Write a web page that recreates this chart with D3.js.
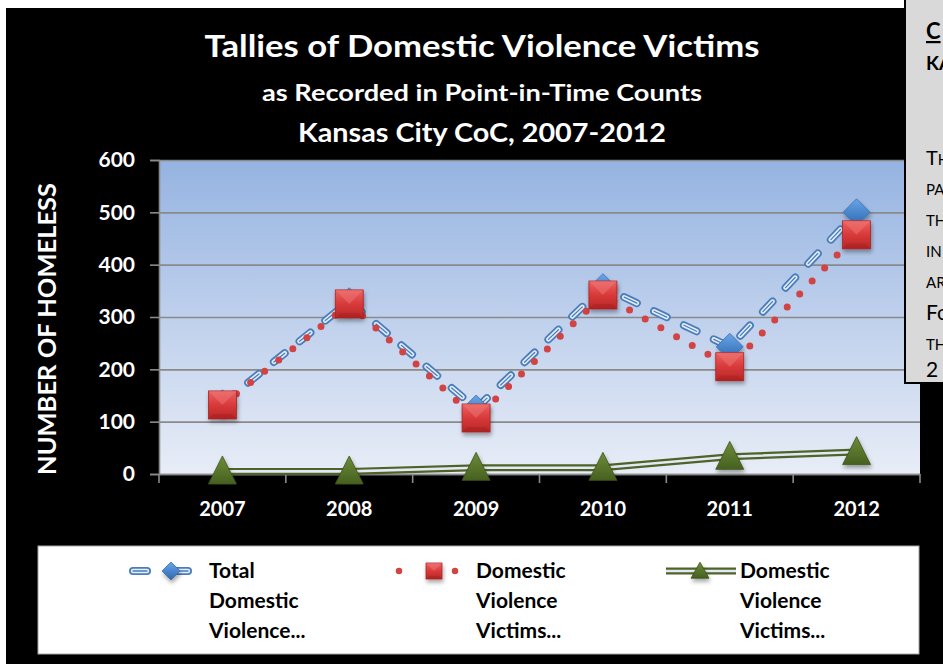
<!DOCTYPE html>
<html>
<head>
<meta charset="utf-8">
<script src="https://cdn.jsdelivr.net/npm/d3@7"></script>
<style>
  html, body { margin: 0; padding: 0; background: #ffffff; }
  svg { display: block; }
</style>
</head>
<body>
<script>
// ---------------- data ----------------
const years = ["2007", "2008", "2009", "2010", "2011", "2012"];
const totalDV = [135, 330, 125, 357, 243, 500];          // Total Domestic Violence...
const dvVictimsA = [132, 325, 107, 342, 205, 457];       // Domestic Violence Victims... (2nd)
const dvVictimsB = [5, 5, 12, 12, 33, 42];               // Domestic Violence Victims... (3rd)
const yTicks = [0, 100, 200, 300, 400, 500, 600];
const seriesNames = [
  ["Total", "Domestic", "Violence..."],
  ["Domestic", "Violence", "Victims..."],
  ["Domestic", "Violence", "Victims..."]
];
const titleLines = [
  "Tallies of Domestic Violence Victims",
  "as Recorded in Point-in-Time Counts",
  "Kansas City CoC, 2007-2012"
];
const yAxisTitle = "NUMBER OF HOMELESS";

// ---------------- setup ----------------
const W = 943, H = 664;
const FONT = "Lato, 'Open Sans', 'DejaVu Sans', sans-serif";
const svg = d3.select("body").append("svg").attr("width", W).attr("height", H);
const defs = svg.append("defs");

const plot = { left: 159, top: 160, right: 920, bottom: 474 };

const x = d3.scaleBand().domain(years).range([plot.left, plot.right]).padding(0);
const y = d3.scaleLinear().domain([0, 600]).range([plot.bottom, plot.top]);
const cx = d => x(d) + x.bandwidth() / 2;

// gradients
function vGrad(id, stops) {
  const g = defs.append("linearGradient").attr("id", id)
    .attr("x1", 0).attr("y1", 0).attr("x2", 0).attr("y2", 1);
  stops.forEach(([o, c]) => g.append("stop").attr("offset", o).attr("stop-color", c));
}
vGrad("plotBg", [[0, "#95b3e1"], [1, "#e8edf7"]]);
vGrad("diaG", [[0, "#6aa6e8"], [0.5, "#4a86cc"], [1, "#2f68ad"]]);
vGrad("sqG", [[0, "#ec6262"], [0.5, "#d83a3a"], [1, "#b82626"]]);
vGrad("triG", [[0, "#6d8c3a"], [1, "#46601f"]]);

const shadow = defs.append("filter").attr("id", "sh")
  .attr("x", "-50%").attr("y", "-50%").attr("width", "200%").attr("height", "200%");
shadow.append("feDropShadow").attr("dx", 1).attr("dy", 3).attr("stdDeviation", 2)
  .attr("flood-color", "#000").attr("flood-opacity", 0.35);

// ---------------- chart frame ----------------
svg.append("rect").attr("x", 6).attr("y", 8).attr("width", W - 6).attr("height", H - 8).attr("fill", "#000");

// title
const titleSizes = [31, 23, 27];
const titleY = [46, 93, 133];
const titleLen = [555, 440, 368];
titleLines.forEach((t, i) => {
  svg.append("text").attr("x", 482).attr("y", titleY[i]).attr("dy", "0.35em")
    .attr("text-anchor", "middle").attr("fill", "#fff")
    .attr("font-family", FONT).attr("font-weight", 700).attr("font-size", titleSizes[i])
    .attr("textLength", titleLen[i]).attr("lengthAdjust", "spacingAndGlyphs")
    .text(t);
});

// plot area
svg.append("rect").attr("x", plot.left).attr("y", plot.top)
  .attr("width", plot.right - plot.left).attr("height", plot.bottom - plot.top)
  .attr("fill", "url(#plotBg)");

// gridlines
const grid = svg.append("g").attr("transform", `translate(${plot.left},0)`)
  .call(d3.axisLeft(y).tickValues(yTicks).tickSize(-(plot.right - plot.left)).tickFormat(""));
grid.select(".domain").remove();
grid.selectAll("line").attr("stroke", "#8a8a8a").attr("stroke-width", 1.6);

// y axis
const yAx = svg.append("g").attr("transform", `translate(${plot.left},0)`)
  .call(d3.axisLeft(y).tickValues(yTicks).tickSize(9).tickPadding(15));
yAx.select(".domain").attr("stroke", "#8a8a8a").attr("stroke-width", 1.6);
yAx.selectAll("line").attr("stroke", "#8a8a8a").attr("stroke-width", 1.6);
yAx.selectAll("text").attr("fill", "#fff").attr("font-family", FONT)
  .attr("font-weight", 700).attr("font-size", 21);

// x axis
const xAx = svg.append("g").attr("transform", `translate(0,${plot.bottom})`)
  .call(d3.axisBottom(x).tickSize(0).tickPadding(35));
xAx.select(".domain").attr("stroke", "#8a8a8a").attr("stroke-width", 1.6);
xAx.selectAll("text").attr("fill", "#fff").attr("font-family", FONT)
  .attr("font-weight", 700).attr("font-size", 20).attr("dy", "0.35em");
// category boundary ticks
const bounds = years.map(d => x(d)).concat([x.range()[1]]);
svg.append("g").selectAll("line").data(bounds).join("line")
  .attr("x1", d => d).attr("x2", d => d).attr("y1", plot.bottom).attr("y2", plot.bottom + 9)
  .attr("stroke", "#8a8a8a").attr("stroke-width", 1.6);

// y axis title
svg.append("text").attr("transform", `translate(48,${(183 + 475) / 2}) rotate(-90)`)
  .attr("text-anchor", "middle").attr("dy", "0.35em").attr("fill", "#fff")
  .attr("font-family", FONT).attr("font-weight", 700).attr("font-size", 24)
  .attr("textLength", 292).attr("lengthAdjust", "spacingAndGlyphs")
  .text(yAxisTitle);

// ---------------- series ----------------
const line = d3.line().x((d, i) => cx(years[i])).y(d => y(d));

function blueLine(g, path) {
  g.append("path").attr("d", path).attr("fill", "none").attr("stroke", "#4a7ebb")
    .attr("stroke-width", 8).attr("stroke-linecap", "round").attr("stroke-dasharray", "14 19");
  g.append("path").attr("d", path).attr("fill", "none").attr("stroke", "#e6eefa")
    .attr("stroke-width", 4.4).attr("stroke-linecap", "round").attr("stroke-dasharray", "14 19");
  g.append("path").attr("d", path).attr("fill", "none").attr("stroke", "#4a7ebb")
    .attr("stroke-width", 1.3).attr("stroke-linecap", "round").attr("stroke-dasharray", "14 19");
}
function redLine(g, path, w) {
  g.append("path").attr("d", path).attr("fill", "none").attr("stroke", "#d24343")
    .attr("stroke-width", w || 7).attr("stroke-linecap", "round").attr("stroke-dasharray", "0 18");
}
function greenLine(g, path) {
  g.append("path").attr("d", path).attr("fill", "none").attr("stroke", "#4f6228")
    .attr("stroke-width", 7).attr("stroke-linejoin", "round");
  g.append("path").attr("d", path).attr("fill", "none").attr("stroke", "#e3e9f4")
    .attr("stroke-width", 2.6).attr("stroke-linejoin", "round");
}
function diamond(g, px, py, r) {
  g.append("path").attr("d", `M${px},${py - r}L${px + r},${py}L${px},${py + r}L${px - r},${py}Z`)
    .attr("fill", "url(#diaG)").attr("stroke", "#3b6ea8").attr("stroke-width", 0.8)
    .attr("filter", "url(#sh)");
}
function square(g, px, py, s) {
  const h = s / 2;
  const grp = g.append("g").attr("filter", "url(#sh)");
  grp.append("rect").attr("x", px - h).attr("y", py - h).attr("width", s).attr("height", s)
    .attr("fill", "url(#sqG)").attr("stroke", "#a82424").attr("stroke-width", 0.8);
  // bevel facets
  const i = s * 0.18;
  grp.append("path").attr("d", `M${px - h},${py - h}L${px + h},${py - h}L${px},${py}Z`)
    .attr("fill", "#f07a7a").attr("opacity", 0.45);
  grp.append("path").attr("d", `M${px - h},${py + h}L${px + h},${py + h}L${px + h - i},${py + h - i}L${px - h + i},${py + h - i}Z`)
    .attr("fill", "#9e1c1c").attr("opacity", 0.35);
}
function triangle(g, px, py, w, hgt) {
  g.append("path").attr("d", `M${px},${py - hgt * 0.55}L${px + w / 2},${py + hgt * 0.45}L${px - w / 2},${py + hgt * 0.45}Z`)
    .attr("fill", "url(#triG)").attr("stroke", "#3e5419").attr("stroke-width", 0.8)
    .attr("filter", "url(#sh)");
}

const gSeries = svg.append("g");
blueLine(gSeries, line(totalDV));
totalDV.forEach((v, i) => diamond(gSeries, cx(years[i]), y(v), 13.5));
redLine(gSeries, line(dvVictimsA));
dvVictimsA.forEach((v, i) => square(gSeries, cx(years[i]), y(v), 28));
greenLine(gSeries, line(dvVictimsB));
dvVictimsB.forEach((v, i) => triangle(gSeries, cx(years[i]), y(v), 28, 28));

// ---------------- legend ----------------
const leg = svg.append("g");
leg.append("rect").attr("x", 38).attr("y", 546).attr("width", 881).attr("height", 108)
  .attr("fill", "#fff").attr("stroke", "#a6a6a6").attr("stroke-width", 1);

const ly = 571;
// item 1
blueLine(leg, `M133,${ly}L152,${ly}`);
blueLine(leg, `M175,${ly}L188,${ly}`);
diamond(leg, 171, ly, 9);
// item 2
redLine(leg, `M399,${ly}L417,${ly}`, 6.5);
redLine(leg, `M455,${ly}L456,${ly}`, 6.5);
square(leg, 434, ly, 16);
// item 3
greenLine(leg, `M666,${ly}L736,${ly}`);
triangle(leg, 700, ly, 18, 16);

const legX = [209, 476, 740];
seriesNames.forEach((lines, k) => {
  lines.forEach((t, j) => {
    leg.append("text").attr("x", legX[k]).attr("y", ly + j * 30).attr("dy", "0.35em")
      .attr("fill", "#000").attr("font-family", FONT).attr("font-weight", 700)
      .attr("font-size", 21).text(t);
  });
});

// ---------------- overlapping text box (cropped at page edge) ----------------
const tb = svg.append("g");
tb.append("rect").attr("x", 905).attr("y", -2).attr("width", 60).attr("height", 385)
  .attr("fill", "#d9d9d9").attr("stroke", "#000").attr("stroke-width", 2);
const tx = 926;
tb.append("text").attr("x", tx).attr("y", 39).attr("font-family", FONT).attr("font-weight", 700)
  .attr("font-size", 22).attr("text-decoration", "underline").attr("fill", "#000").text("C");
tb.append("text").attr("x", tx).attr("y", 70).attr("font-family", FONT).attr("font-weight", 700)
  .attr("font-size", 19).attr("fill", "#000").text("KA");
const tbRows = [
  { y: 165, parts: [["T", 20], ["H", 15]] },
  { y: 195, parts: [["PA", 15]] },
  { y: 226, parts: [["TH", 15]] },
  { y: 257, parts: [["IN", 15]] },
  { y: 288, parts: [["AR", 15]] },
  { y: 320, parts: [["Fo", 21]] },
  { y: 350, parts: [["TH", 15]] },
  { y: 377, parts: [["2", 21]] }
];
tbRows.forEach(r => {
  const t = tb.append("text").attr("x", tx).attr("y", r.y).attr("font-family", FONT)
    .attr("fill", "#000");
  r.parts.forEach(([s, fs]) => t.append("tspan").attr("font-size", fs).text(s));
});
</script>
</body>
</html>
